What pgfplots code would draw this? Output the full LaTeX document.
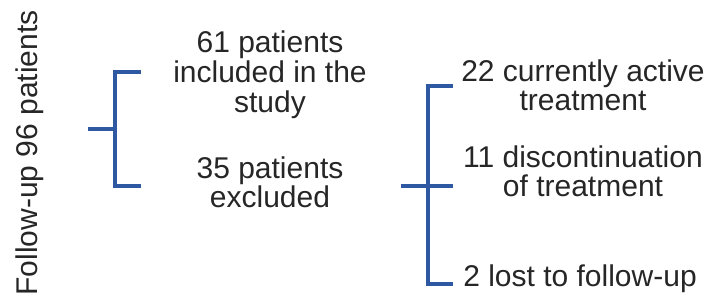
\documentclass[border=0pt]{standalone}
\usepackage{pgfplots}
\pgfplotsset{compat=1.18}
\usepackage{fontspec}
\setmainfont{Liberation Sans}
\definecolor{bl}{RGB}{46,88,162}
\tikzset{t/.style={font=\fontsize{30}{36}\selectfont,text=black!85,inner sep=0pt,anchor=base}}
\begin{document}
\begin{tikzpicture}
\begin{axis}[width=708pt,height=302pt,scale only axis,
  xmin=0,xmax=708,ymin=0,ymax=302,y dir=reverse,hide axis,clip=false]
\addplot[bl,line width=3.3pt,line join=miter] coordinates {(141,72) (115,72) (115,186) (141,186)};
\addplot[bl,line width=3.3pt] coordinates {(88,129) (116,129)};
\addplot[bl,line width=3.3pt,line join=miter] coordinates {(453,86) (428,86) (428,284) (453,284)};
\addplot[bl,line width=3.3pt] coordinates {(401,186) (453,186)};
\node[t,rotate=90] at (axis cs:37,153) {Follow-up 96 patients};
\node[t] at (axis cs:270,53) {61 patients};
\node[t] at (axis cs:270,83) {included in the};
\node[t] at (axis cs:270,113) {study};
\node[t] at (axis cs:270,178) {35 patients};
\node[t] at (axis cs:270,207) {excluded};
\node[t] at (axis cs:583,82) {22 currently active};
\node[t] at (axis cs:583,111) {treatment};
\node[t] at (axis cs:583,167) {11 discontinuation};
\node[t] at (axis cs:583,196) {of treatment};
\node[t] at (axis cs:580,286) {2 lost to follow-up};
\end{axis}
\pgfresetboundingbox
\path[use as bounding box] (0,0) rectangle (708pt,302pt);
\end{tikzpicture}
\end{document}
